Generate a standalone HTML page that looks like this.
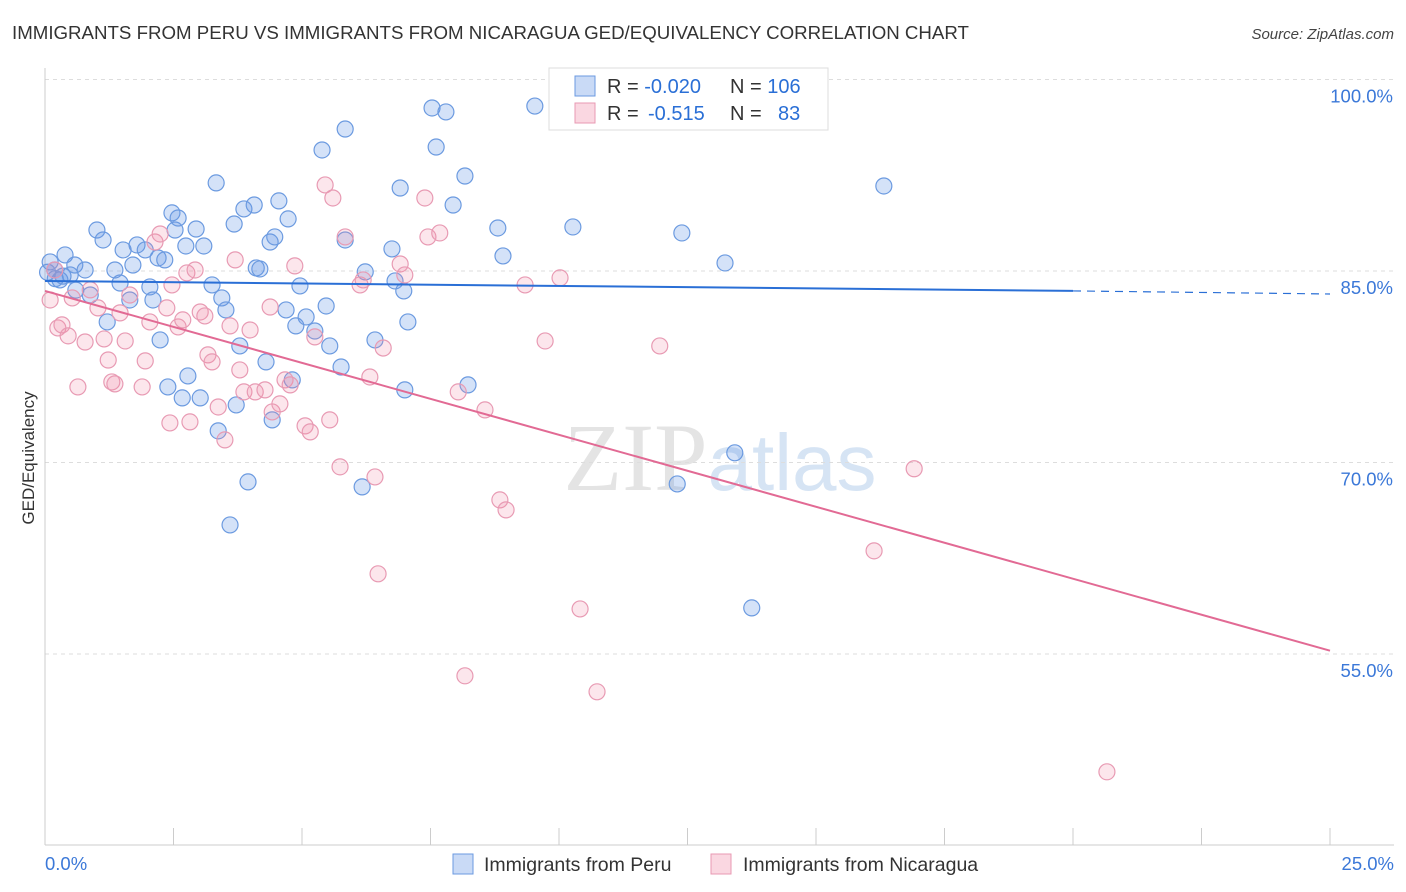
<!DOCTYPE html>
<html><head><meta charset="utf-8"><style>
body{margin:0;background:#fff;font-family:"Liberation Sans",sans-serif}
svg{display:block}
</style></head><body>
<svg id="chart" width="1406" height="892" xmlns="http://www.w3.org/2000/svg">
<text x="12" y="39" font-size="18.7" fill="#333">IMMIGRANTS FROM PERU VS IMMIGRANTS FROM NICARAGUA GED/EQUIVALENCY CORRELATION CHART</text>
<text x="1394" y="39" font-size="15" fill="#444" text-anchor="end" font-style="italic">Source: ZipAtlas.com</text>
<text x="720" y="490" font-size="96" fill="#e4e4e4" text-anchor="middle" font-family="Liberation Serif">ZIP<tspan fill="#d6e4f4" font-family="Liberation Sans" font-size="80">atlas</tspan></text>
<g id="grid"></g><g id="axes"></g><g id="marks"></g>
<text transform="translate(34,458) rotate(-90)" font-size="17" fill="#333" text-anchor="middle">GED/Equivalency</text>
<g>
<rect x="549" y="68" width="279" height="62" fill="#fff" stroke="#ddd"/>
<rect x="575" y="76" width="20" height="20" fill="rgba(100,150,230,0.35)" stroke="#6b9ae0"/>
<rect x="575" y="103" width="20" height="20" fill="rgba(240,140,170,0.35)" stroke="#e89ab3"/>
<text x="607" y="93" font-size="20" fill="#333">R = <tspan fill="#2a6fd6">-0.020</tspan><tspan x="730">N = </tspan><tspan fill="#2a6fd6">106</tspan></text>
<text x="607" y="120" font-size="20" fill="#333">R = <tspan fill="#2a6fd6" x="648">-0.515</tspan><tspan x="730">N = </tspan><tspan fill="#2a6fd6" x="778">83</tspan></text>
</g>
<g>
<rect x="453" y="854" width="20" height="20" fill="rgba(100,150,230,0.35)" stroke="#6b9ae0"/>
<text x="484" y="871" font-size="19.5" fill="#333">Immigrants from Peru</text>
<rect x="711" y="854" width="20" height="20" fill="rgba(240,140,170,0.35)" stroke="#e89ab3"/>
<text x="743" y="871" font-size="19.5" fill="#333">Immigrants from Nicaragua</text>
</g>
</svg>
<script>
const yTicks=[100,85,70,55];
const yTickLabels=["100.0%","85.0%","70.0%","55.0%"];
const xTickCount=[0,2.5,5,7.5,10,12.5,15,17.5,20,22.5,25];
const peruX=[0.10,0.19,0.29,0.39,0.49,0.58,0.78,0.88,1.01,1.13,1.21,1.36,1.46,1.52,1.65,1.71,1.79,1.95,2.04,2.10,2.20,2.24,2.33,2.39,2.47,2.53,2.59,2.67,2.74,2.78,2.94,3.02,3.09,3.25,3.33,3.37,3.44,3.52,3.60,3.68,3.72,3.79,3.87,3.95,4.07,4.11,4.18,4.30,4.38,4.42,4.47,4.55,4.69,4.73,4.81,4.88,4.96,5.08,5.25,5.39,5.47,5.54,5.76,5.84,5.84,6.17,6.23,6.42,6.75,6.81,6.91,6.98,7.00,7.06,7.53,7.61,7.80,7.94,8.17,8.23,8.81,8.91,9.53,10.27,10.89,12.30,12.39,13.23,13.42,13.75,16.32,0.05,0.2,0.35,0.6];
const peruY=[85.71,85.08,84.30,86.26,84.69,85.47,85.08,83.12,88.21,87.43,81.01,85.08,84.06,86.65,82.73,85.47,87.04,86.65,83.75,82.73,86.02,79.60,85.87,75.92,89.55,88.21,89.15,75.06,86.96,76.78,88.29,75.06,86.96,83.91,91.90,72.48,82.89,81.95,65.11,88.68,74.51,79.13,89.86,68.48,90.17,85.24,85.16,77.88,87.27,73.34,87.67,90.49,81.95,89.08,76.47,80.70,83.83,81.40,80.30,94.48,82.26,79.13,77.48,96.12,87.43,68.09,84.93,79.60,86.73,84.22,91.50,83.44,75.69,81.01,97.77,94.71,97.46,90.17,92.44,76.08,88.37,86.18,97.92,88.45,96.83,68.32,87.98,85.63,70.76,58.61,91.66,84.9,84.4,84.6,83.5];
const nicX=[0.10,0.19,0.25,0.33,0.45,0.53,0.64,0.78,0.88,1.03,1.15,1.23,1.30,1.36,1.46,1.56,1.65,1.89,1.95,2.04,2.14,2.24,2.37,2.43,2.47,2.59,2.68,2.76,2.82,2.92,3.02,3.11,3.17,3.25,3.37,3.50,3.60,3.70,3.79,3.87,3.99,4.09,4.28,4.38,4.42,4.57,4.67,4.77,4.86,5.06,5.16,5.25,5.54,5.45,5.60,5.74,5.84,6.13,6.19,6.32,6.42,6.48,6.58,6.91,7.00,7.39,7.45,7.68,8.04,8.17,8.56,8.85,8.97,9.34,9.73,10.02,10.41,10.74,11.96,16.13,16.91,20.66];
const nicY=[82.73,85.08,80.54,80.78,79.92,82.89,75.92,79.44,83.52,82.11,79.68,78.03,76.31,76.16,81.72,79.52,83.12,75.92,77.96,81.01,87.27,87.90,82.11,73.10,83.91,80.62,81.17,84.85,73.18,85.08,81.79,81.48,78.43,77.88,74.35,71.77,80.70,85.87,77.25,75.53,80.38,75.53,75.69,82.18,73.96,74.59,76.47,76.08,85.40,72.87,72.40,79.84,73.34,91.74,90.72,69.66,87.67,83.91,84.30,76.70,68.87,61.28,78.97,85.55,84.69,90.72,87.67,87.98,75.53,53.29,74.12,67.07,66.29,83.91,79.52,84.46,58.53,52.04,79.13,63.08,69.51,45.77];
const peruTrend=[84.22,83.44,83.2];
const nicTrend=[83.44,55.26];
const NS="http://www.w3.org/2000/svg";
const X0=45,X1=1330,YTOP=79.5,PPY=191.5/15;
const xs=v=>X0+(v/25)*(X1-X0);
const ys=v=>YTOP+(100-v)*PPY;
function mk(tag,attrs,parent){const e=document.createElementNS(NS,tag);for(const k in attrs)e.setAttribute(k,attrs[k]);parent.appendChild(e);return e;}
const gridG=document.getElementById('grid'),axesG=document.getElementById('axes'),marksG=document.getElementById('marks');
const topLine=mk('line',{x1:X0,x2:1394,y1:YTOP,y2:YTOP,stroke:'#ddd','stroke-dasharray':'4,4'},gridG);


yTicks.forEach((t,i)=>{
 const g=mk('line',{x1:X0,x2:1394,y1:ys(t),y2:ys(t),stroke:'#ddd','stroke-dasharray':'4,4'},gridG);
 
 
 const l=mk('text',{x:1393,y:ys(t)+23,'font-size':18.5,fill:'#3b78d8','text-anchor':'end'},axesG);
 l.textContent=yTickLabels[i];
 
 
});
const yAx=mk('line',{x1:X0,x2:X0,y1:68,y2:845,stroke:'#ccc'},axesG);


const xAx=mk('line',{x1:X0,x2:1394,y1:845,y2:845,stroke:'#ccc'},axesG);


xTickCount.forEach(t=>{const tk=mk('line',{x1:xs(t),x2:xs(t),y1:828,y2:845,stroke:'#ccc'},axesG);
 
 });
const xl=mk('text',{x:45,y:870,'font-size':18.5,fill:'#3b78d8'},axesG);xl.textContent='0.0%';


const xr=mk('text',{x:1394,y:870,'font-size':18.5,fill:'#3b78d8','text-anchor':'end'},axesG);xr.textContent='25.0%';


peruX.forEach((v,i)=>{const c=mk('circle',{cx:xs(v),cy:ys(peruY[i]),r:8,fill:'rgba(100,150,230,0.28)',stroke:'#6b9ae0','stroke-width':1.2},marksG);
 
 });
nicX.forEach((v,i)=>{const c=mk('circle',{cx:xs(v),cy:ys(nicY[i]),r:8,fill:'rgba(240,140,170,0.22)',stroke:'#e89ab3','stroke-width':1.2},marksG);
 
 });
const t1=mk('line',{x1:xs(0),y1:ys(peruTrend[0]),x2:xs(20),y2:ys(peruTrend[1]),stroke:'#2a6fd6','stroke-width':2},marksG);


const t2=mk('line',{x1:xs(20),y1:ys(peruTrend[1]),x2:xs(25),y2:ys(peruTrend[2]),stroke:'#2a6fd6','stroke-width':1.2,'stroke-dasharray':'8,6'},marksG);


const t3=mk('line',{x1:xs(0),y1:ys(nicTrend[0]),x2:xs(25),y2:ys(nicTrend[1]),stroke:'#e26a94','stroke-width':2},marksG);


</script>
</body></html>
